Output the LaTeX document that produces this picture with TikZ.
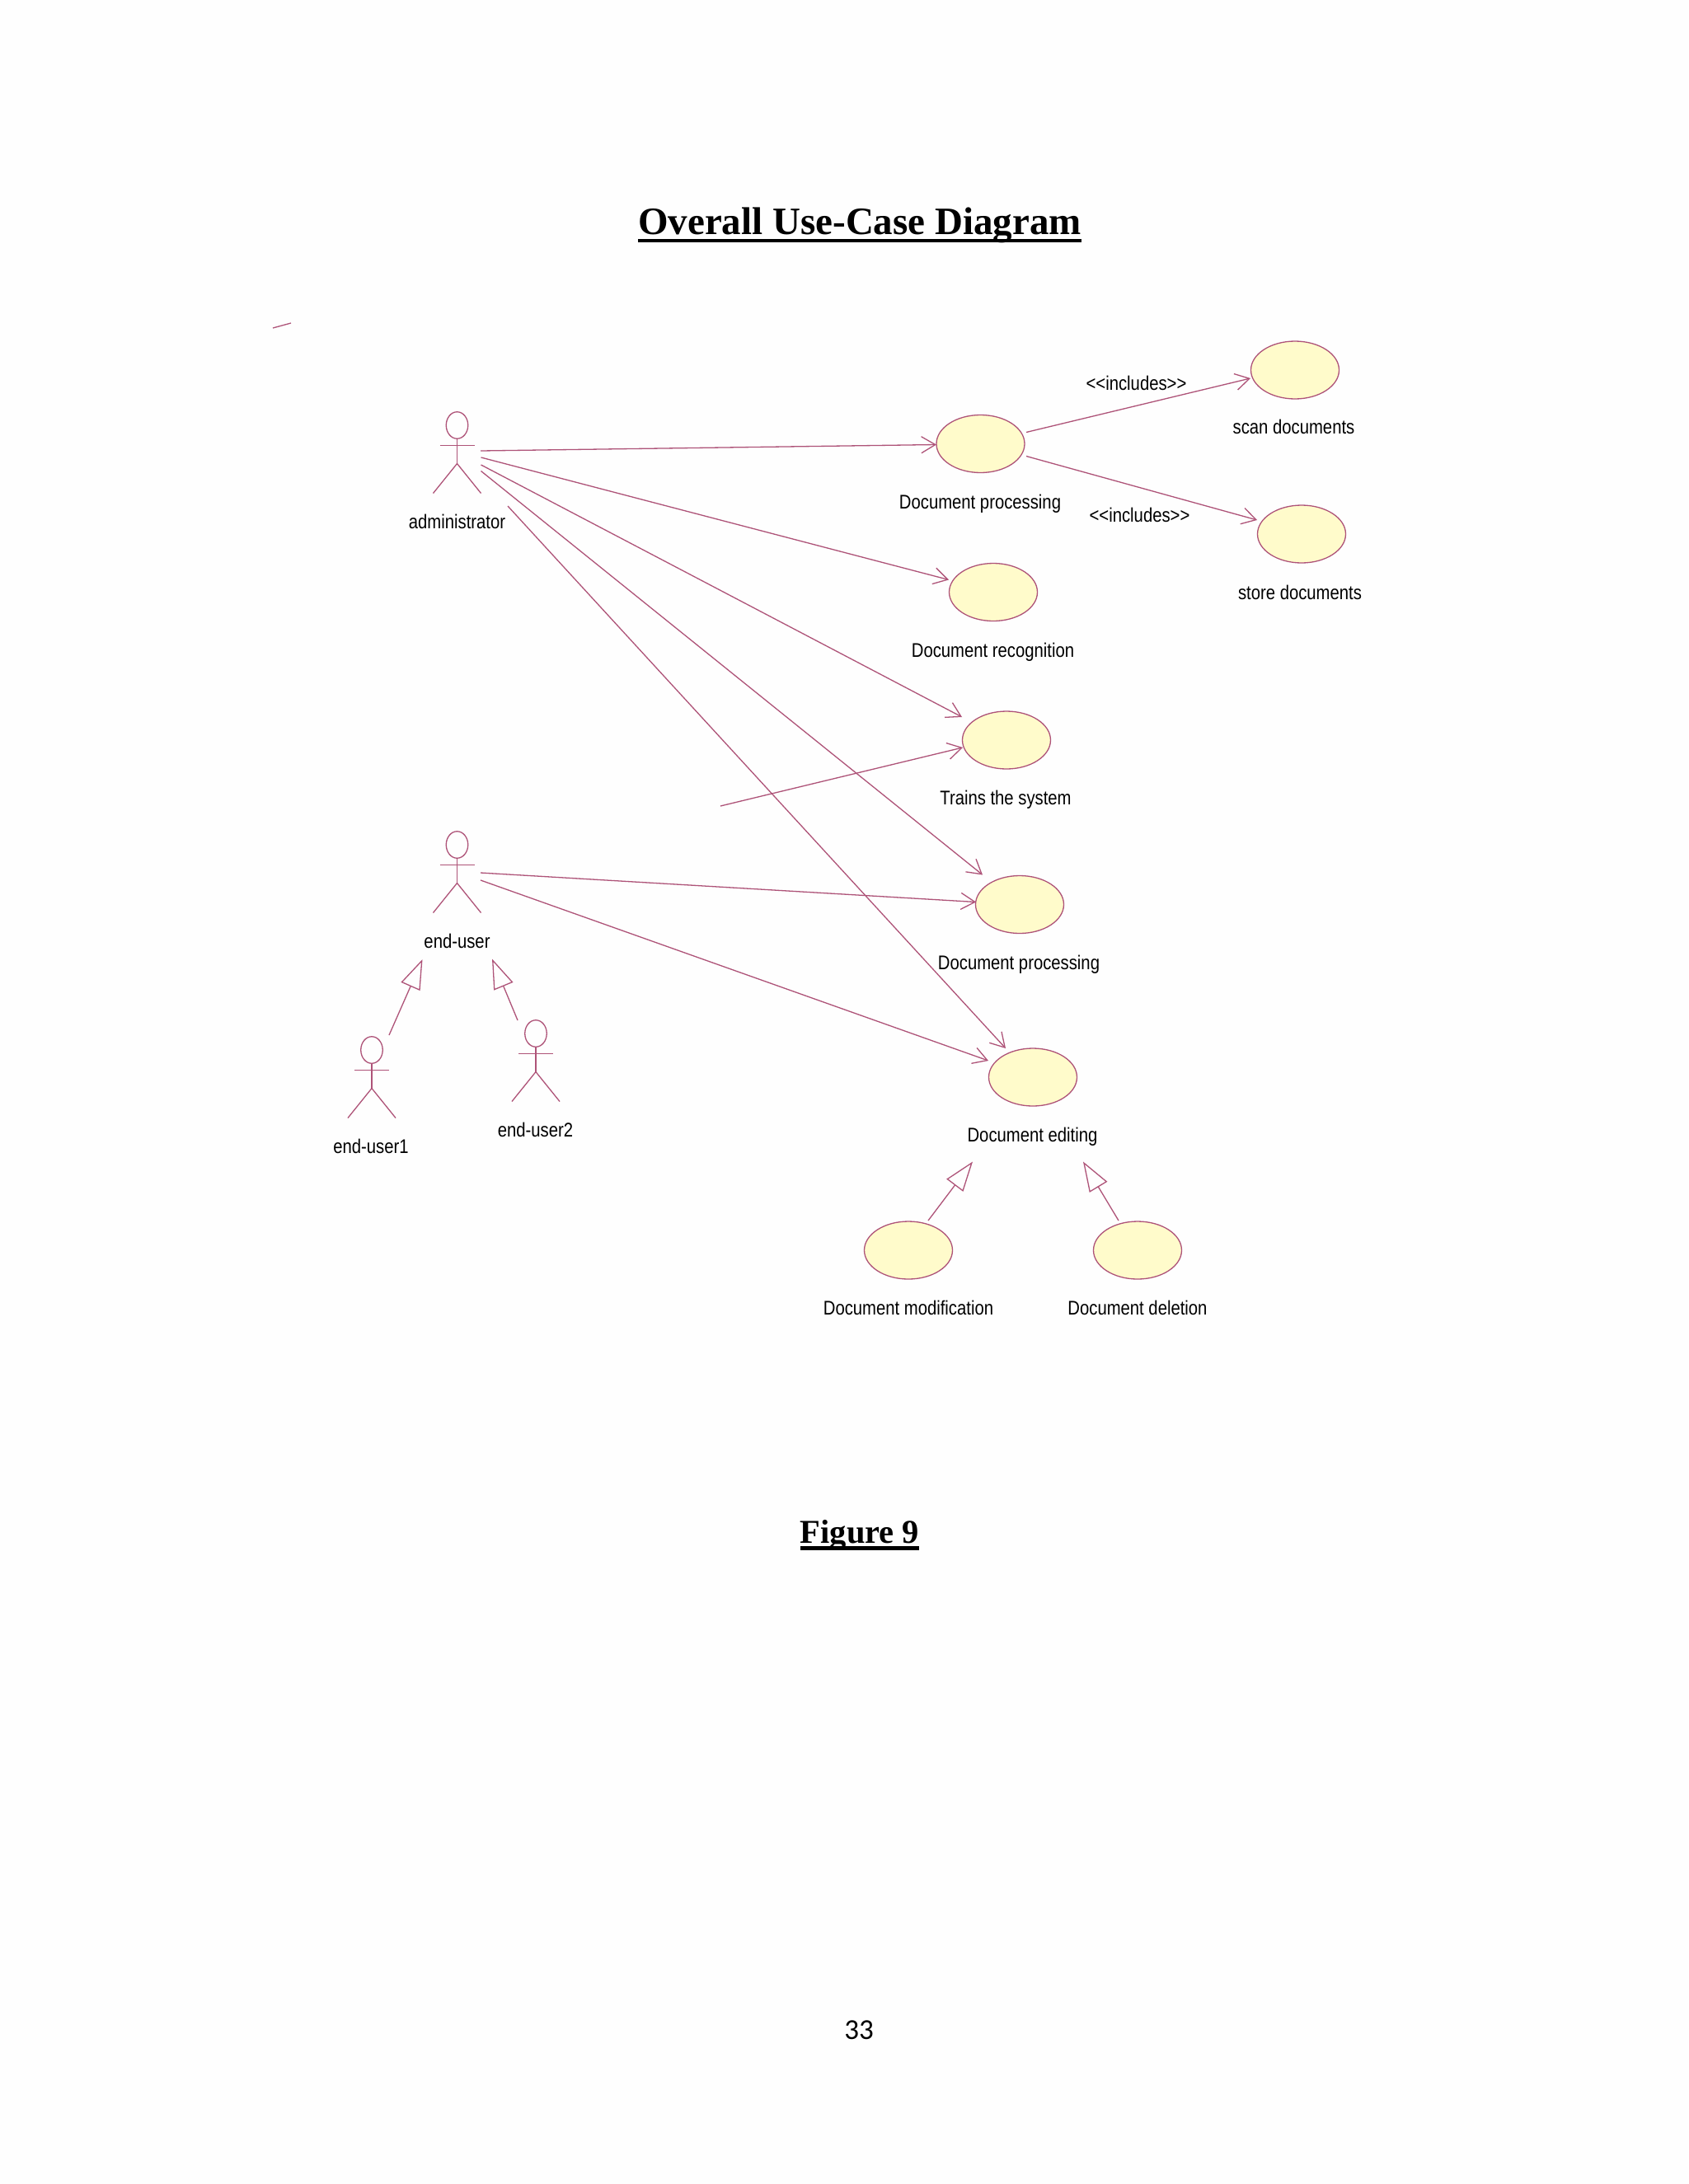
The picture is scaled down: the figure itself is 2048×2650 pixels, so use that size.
\documentclass[tikz,border=0pt]{standalone}
\usepackage{fontspec}
\usetikzlibrary{arrows.meta,shapes.geometric}
\setmainfont{Liberation Serif}
\newfontfamily\labfont[FakeStretch=0.845]{Liberation Sans}
\newfontfamily\numfont{Carlito}
\definecolor{umlline}{HTML}{AE5378}
\definecolor{umlfill}{HTML}{FFFBCB}
\newcommand{\ulinetext}[3]{\setbox0\hbox{#1}\rlap{\copy0}\rlap{\kern0pt\raisebox{-#2}{\rule{\wd0}{#3}}}\hbox to \wd0{}}
\tikzset{
  x=1pt,y=-1pt,
  usecase/.style={ellipse,draw=umlline,fill=umlfill,line width=1.3pt,minimum width=107pt,minimum height=70pt,inner sep=0pt,outer sep=0pt},
  actorhead/.style={ellipse,draw=umlline,line width=1.3pt,minimum width=26.5pt,minimum height=32.5pt,inner sep=0pt,outer sep=0pt},
  actorline/.style={draw=umlline,line width=1.3pt},
  assoc/.style={draw=umlline,line width=1.3pt,-{Straight Barb[length=17pt,width=20pt]}},
  general/.style={draw=umlline,line width=1.3pt,-{Triangle[open,length=36pt,width=25pt]}},
  lab/.style={anchor=base,inner sep=0pt,font=\fontsize{24pt}{28pt}\labfont,text=black},
  heading/.style={anchor=base,inner sep=0pt,text=black},
}
\newcommand{\actorfig}[3]{%
  \node[actorhead] (#1) at (#2,#3) {};
  \draw[actorline] ([shift={(-21,24.5)}]#1.center) -- ([shift={(21,24.5)}]#1.center);
  \draw[actorline] (#1.south) -- ([shift={(0,46.5)}]#1.center);
  \draw[actorline] ([shift={(-29,82.5)}]#1.center) -- ([shift={(0,46.5)}]#1.center) -- ([shift={(29,82.5)}]#1.center);
}
\begin{document}
\begin{tikzpicture}
\useasboundingbox (0,0) rectangle (2048,2650);
\fill[white!99.5!black] (0,0) rectangle (2048,2650);

\node[heading,font=\fontsize{47pt}{50pt}\selectfont\bfseries] (title) at (1043,284) {\ulinetext{Overall Use-Case Diagram}{10pt}{4.5pt}};
\node[heading,font=\fontsize{40.5pt}{44pt}\selectfont\bfseries] (figcap) at (1043,1872) {\ulinetext{Figure 9}{8.7pt}{4.5pt}};
\node[heading,font=\fontsize{35pt}{40pt}\numfont] (pageno) at (1042,2474.5) {33};

% stray stroke
\coordinate (strayA) at (331,398);
\coordinate (strayB) at (353,392);
\draw[actorline] (strayA) -- (strayB);

% actors
\actorfig{admin}{554.5}{516}
\actorfig{enduser}{554.5}{1025}
\actorfig{eua}{451}{1274}
\actorfig{eub}{650}{1254}
\node[lab] (adminL) at (554.5,641) {administrator};
\node[lab] (enduserL) at (554.5,1150) {end-user};
\node[lab] (euaL) at (450,1399) {end-user1};
\node[lab] (eubL) at (649.5,1379) {end-user2};

% use cases
\node[usecase] (dp) at (1189.5,538.5) {};
\node[usecase] (scan) at (1571,449) {};
\node[usecase] (store) at (1579,648) {};
\node[usecase] (rec) at (1205,718.5) {};
\node[usecase] (train) at (1221,898) {};
\node[usecase] (dpb) at (1237,1097.5) {};
\node[usecase] (edit) at (1253,1307) {};
\node[usecase] (mod) at (1102,1517) {};
\node[usecase] (del) at (1380,1517) {};
\node[lab] (dpL) at (1189,617) {Document processing};
\node[lab] (scanL) at (1569.5,526) {scan documents};
\node[lab] (storeL) at (1577,727) {store documents};
\node[lab] (recL) at (1204.5,797) {Document recognition};
\node[lab] (trainL) at (1220,976) {Trains the system};
\node[lab] (dpbL) at (1236,1176) {Document processing};
\node[lab] (editL) at (1252.5,1385) {Document editing};
\node[lab] (modL) at (1102,1595) {Document modification};
\node[lab] (delL) at (1380,1595) {Document deletion};
\node[lab] (incA) at (1378.5,473) {<{}<includes>{}>};
\node[lab] (incB) at (1382.5,633) {<{}<includes>{}>};

% associations
\draw[assoc] ([shift={(28.5,31)}]admin.center) -- ([shift={(-53.5,1)}]dp.center);
\draw[assoc] ([shift={(29,39)}]admin.center) -- ([shift={(-54,-15)}]rec.center);
\draw[assoc] ([shift={(29,48)}]admin.center) -- ([shift={(-54,-28)}]train.center);
\draw[assoc] ([shift={(29,55.5)}]admin.center) -- ([shift={(-45,-36)}]dpb.center);
\draw[assoc] ([shift={(61.5,98)}]admin.center) -- ([shift={(-33,-35)}]edit.center);
\draw[assoc] ([shift={(28.5,34)}]enduser.center) -- ([shift={(-53,-3)}]dpb.center);
\draw[assoc] ([shift={(28.5,43)}]enduser.center) -- ([shift={(-54,-20)}]edit.center);
\coordinate (looseEnd) at (874,978);
\draw[assoc] (looseEnd) -- ([shift={(-53,9)}]train.center);
\draw[assoc] ([shift={(55.5,-14)}]dp.center) -- ([shift={(-54,10)}]scan.center);
\draw[assoc] ([shift={(55.5,15)}]dp.center) -- ([shift={(-54,-17)}]store.center);

% generalisations
\draw[general] ([shift={(21,-18)}]eua.center) -- ([shift={(-42,139)}]enduser.center);
\draw[general] ([shift={(-22,-16)}]eub.center) -- ([shift={(42.5,138.5)}]enduser.center);
\draw[general] ([shift={(24,-36)}]mod.center) -- ([shift={(-73,102.5)}]edit.center);
\draw[general] ([shift={(-23,-36)}]del.center) -- ([shift={(61,102.5)}]edit.center);
\end{tikzpicture}
\end{document}
